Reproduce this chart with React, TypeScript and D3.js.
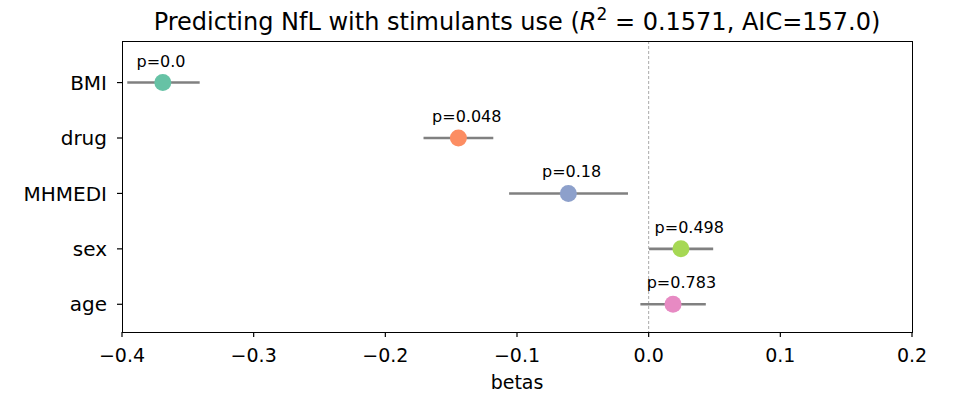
import React from "react";
import * as d3 from "d3";

const variables = ["BMI", "drug", "MHMEDI", "sex", "age"];
const betas = [-0.369, -0.1445, -0.061, 0.0245, 0.0185];
const ciLow = [-0.396, -0.171, -0.106, 0.0003, -0.0063];
const ciHigh = [-0.341, -0.118, -0.0157, 0.049, 0.0434];
const pLabels = ["p=0.0", "p=0.048", "p=0.18", "p=0.498", "p=0.783"];
const colors = ["#66c2a5", "#fc8d62", "#8da0cb", "#a6d854", "#e78ac3"];
const xTicks = [-0.4, -0.3, -0.2, -0.1, 0.0, 0.1, 0.2];

const W = 957;
const H = 393;
const M = { left: 122, right: 912, top: 41, bottom: 332 };
const FONT = "DejaVu Sans, sans-serif";

export default function App() {
  const x = d3.scaleLinear().domain([-0.4, 0.2]).range([M.left, M.right]);
  const y = d3.scaleLinear().domain([-0.75, 4.5]).range([M.top, M.bottom]);
  const fmt = (v: number) => {
    const s = v.toFixed(1);
    return v < 0 ? "\u2212" + s.slice(1) : s;
  };
  return (
    <svg
      width={W}
      height={H}
      style={{ position: "absolute", left: 0, top: 0, background: "#fff" }}
      fontFamily={FONT}
    >
      <rect x={0} y={0} width={W} height={H} fill="#fff" />
      <line
        x1={x(0)}
        x2={x(0)}
        y1={M.top}
        y2={M.bottom}
        stroke="#aaaaaa"
        strokeWidth={1}
        strokeDasharray="3,2"
      />
      {variables.map((v, i) => (
        <g key={v}>
          <line
            x1={x(ciLow[i])}
            x2={x(ciHigh[i])}
            y1={y(i)}
            y2={y(i)}
            stroke="#808080"
            strokeWidth={2.6}
          />
          <circle cx={x(betas[i])} cy={y(i)} r={8.5} fill={colors[i]} />
          <text x={x(betas[i] - 0.02)} y={y(i) - 16} fontSize={16} fill="#000">
            {pLabels[i]}
          </text>
        </g>
      ))}
      <rect
        x={M.left + 0.5}
        y={M.top + 0.5}
        width={M.right - M.left}
        height={M.bottom - M.top}
        fill="none"
        stroke="#000"
        strokeWidth={1.2}
        shapeRendering="crispEdges"
      />
      {xTicks.map((t) => (
        <g key={t}>
          <line
            x1={x(t)}
            x2={x(t)}
            y1={M.bottom}
            y2={M.bottom + 5}
            stroke="#000"
            strokeWidth={1.2}
          />
          <text x={x(t)} y={M.bottom + 30} fontSize={19} textAnchor="middle" fill="#000">
            {fmt(t)}
          </text>
        </g>
      ))}
      {variables.map((v, i) => (
        <g key={v}>
          <line x1={M.left - 5} x2={M.left} y1={y(i)} y2={y(i)} stroke="#000" strokeWidth={1.2} />
          <text x={M.left - 15} y={y(i)} dy="0.36em" fontSize={20} textAnchor="end" fill="#000">
            {v}
          </text>
        </g>
      ))}
      <text x={(M.left + M.right) / 2} y={389} fontSize={19} textAnchor="middle" fill="#000">
        betas
      </text>
      <text x={(M.left + M.right) / 2} y={30} fontSize={24} textAnchor="middle" fill="#000">
        Predicting NfL with stimulants use (
        <tspan fontStyle="italic">R</tspan>
        <tspan dy={-10} fontSize={17}>2</tspan>
        <tspan dy={10}> = 0.1571, AIC=157.0)</tspan>
      </text>
    </svg>
  );
}
